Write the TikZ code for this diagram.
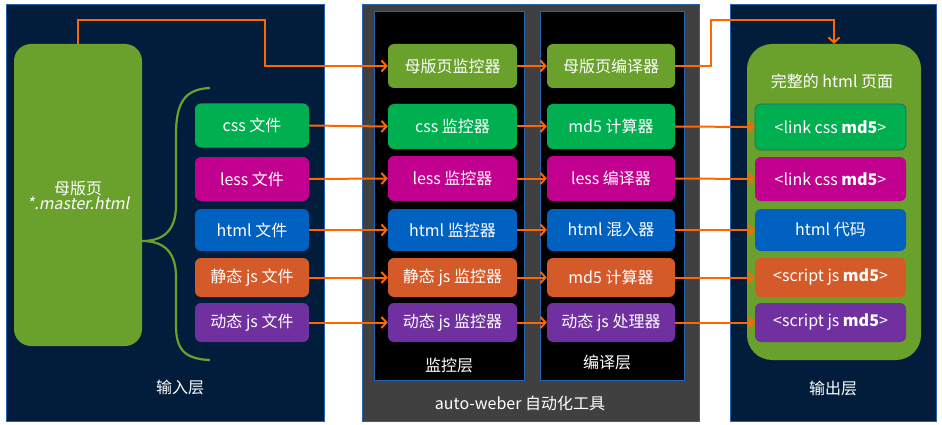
\documentclass[tikz,border=0pt]{standalone}
\usepackage{fontspec}
\setmainfont{Noto Sans CJK SC}[AutoFakeSlant=0.2]
\usetikzlibrary{arrows.meta,calc}
\definecolor{navy}{HTML}{011D3B}
\definecolor{pborder}{HTML}{2563B0}
\definecolor{olive}{HTML}{69A12C}
\definecolor{cgreen}{HTML}{00AF50}
\definecolor{cmag}{HTML}{C2008F}
\definecolor{cblue}{HTML}{0061C1}
\definecolor{corange}{HTML}{D45A2A}
\definecolor{cpurple}{HTML}{7030A0}
\definecolor{carrow}{HTML}{FF6600}
\definecolor{cgray}{HTML}{404040}
\definecolor{cteal}{HTML}{1D6E6E}
\begin{document}
\begin{tikzpicture}[x=1pt,y=-1pt,
  every node/.style={text=white,font=\fontsize{16}{19}\selectfont},
  panel/.style={draw=pborder,line width=1pt},
  box/.style={rounded corners=6pt,inner sep=0pt,minimum height=#1},
  inbox/.style={box=#1,minimum width=114pt},
  monbox/.style={box=#1,minimum width=129pt},
  cmpbox/.style={box=#1,minimum width=128pt},
  outbox/.style={box=#1,minimum width=151pt},
  arr/.style={draw=carrow,line width=2pt,-{Straight Barb[length=5pt,width=11pt]}},
  lbl/.style={inner sep=0pt}
]
\useasboundingbox[fill=white] (0,0) rectangle (942,425);
% panels
\fill[panel,fill=navy] (6,5) rectangle (324,421);
\fill[panel,fill=cgray] (362,5) rectangle (699,421);
\fill[panel,fill=black] (374,12) rectangle (524,380);
\fill[panel,fill=black] (540,12) rectangle (684,380);
\fill[panel,fill=navy] (730,5) rectangle (936,421);

% input layer
\node[fill=olive,rounded corners=17pt,minimum width=128pt,minimum height=302pt,inner sep=0pt,align=center] (master) at (78,195) {母版页\\[-4pt]\textit{*.master.html}};
\node[inbox=44pt,fill=cgreen] (icss) at (252,125.5) {css 文件};
\node[inbox=44pt,fill=cmag] (iless) at (252,179) {less 文件};
\node[inbox=42pt,fill=cblue] (ihtml) at (252,230) {html 文件};
\node[inbox=39pt,fill=corange] (isjs) at (252,277.5) {静态 js 文件};
\node[inbox=39pt,fill=cpurple] (idjs) at (252,322.5) {动态 js 文件};
\node[lbl] (linput) at (180,387) {输入层};
\draw[olive,line width=2.2pt] (210,88) .. controls (183,89) and (176,105) .. (176,135) -- (176,205) .. controls (176,232) and (162,241) .. (142,241)
  .. controls (162,241) and (176,250) .. (176,277) -- (176,325) .. controls (176,348) and (183,359) .. (210,360);

% monitor layer
\node[monbox=44pt,fill=olive] (mmaster) at (452.5,66) {母版页监控器};
\node[monbox=45pt,fill=cgreen] (mcss) at (452.5,126.5) {css 监控器};
\node[monbox=45pt,fill=cmag] (mless) at (452.5,178.5) {less 监控器};
\node[monbox=42pt,fill=cblue] (mhtml) at (452.5,230) {html 监控器};
\node[monbox=39pt,fill=corange] (msjs) at (452.5,277.5) {静态 js 监控器};
\node[monbox=39pt,fill=cpurple] (mdjs) at (452.5,322.5) {动态 js 监控器};
\node[lbl] (lmon) at (449,365) {监控层};

% compile layer
\node[cmpbox=44pt,fill=olive] (cmaster) at (611,66) {母版页编译器};
\node[cmpbox=45pt,fill=cgreen] (ccss) at (611,126.5) {md5 计算器};
\node[cmpbox=45pt,fill=cmag] (cless) at (611,178.5) {less 编译器};
\node[cmpbox=42pt,fill=cblue] (chtml) at (611,230) {html 混入器};
\node[cmpbox=39pt,fill=corange] (csjs) at (611,277.5) {md5 计算器};
\node[cmpbox=39pt,fill=cpurple] (cdjs) at (611,322.5) {动态 js 处理器};
\node[lbl] (lcmp) at (607,362) {编译层};
\node[lbl] (ltool) at (520,403) {auto-weber 自动化工具};

% output layer
\node[fill=olive,rounded corners=25pt,minimum width=174pt,minimum height=316pt,inner sep=0pt] (outpage) at (834,202) {};
\node[lbl] (ltitle) at (832,81) {完整的 html 页面};
\node[outbox=46pt,fill=cgreen,draw=cteal,line width=0.8pt] (ocss) at (830.5,127) {<link css \textbf{md5}>};
\node[outbox=44pt,fill=cmag] (oless) at (830.5,179) {<link css \textbf{md5}>};
\node[outbox=42pt,fill=cblue] (ohtml) at (830.5,230) {html 代码};
\node[outbox=39pt,fill=corange] (osjs) at (830.5,277.5) {<script js \textbf{md5}>};
\node[outbox=39pt,fill=cpurple] (odjs) at (830.5,322.5) {<script js \textbf{md5}>};
\node[lbl] (lout) at (833,388) {输出层};

% connectors
\draw[arr] (master.north) -- ++(0,-24) -| ($(mmaster.west)+(-123,0)$) -- (mmaster.west);
\draw[arr] (icss.east) -- (mcss.west);
\draw[arr] (iless.east) -- (mless.west);
\draw[arr] (ihtml.east) -- (mhtml.west);
\draw[arr] (isjs.east) -- (msjs.west);
\draw[arr] (idjs.east) -- (mdjs.west);
\draw[arr] (mmaster.east) -- (cmaster.west);
\draw[arr] (mcss.east) -- (ccss.west);
\draw[arr] (mless.east) -- (cless.west);
\draw[arr] (mhtml.east) -- (chtml.west);
\draw[arr] (msjs.east) -- (csjs.west);
\draw[arr] (mdjs.east) -- (cdjs.west);
\draw[arr] (cmaster.east) -- ++(36,0) |- ($(outpage.north)+(0,-24)$) -- (outpage.north);
\draw[arr] (ccss.east) -- (ocss.west);
\draw[arr] (cless.east) -- (oless.west);
\draw[arr] (chtml.east) -- (ohtml.west);
\draw[arr] (csjs.east) -- (osjs.west);
\draw[arr] (cdjs.east) -- (odjs.west);
\end{tikzpicture}
\end{document}
